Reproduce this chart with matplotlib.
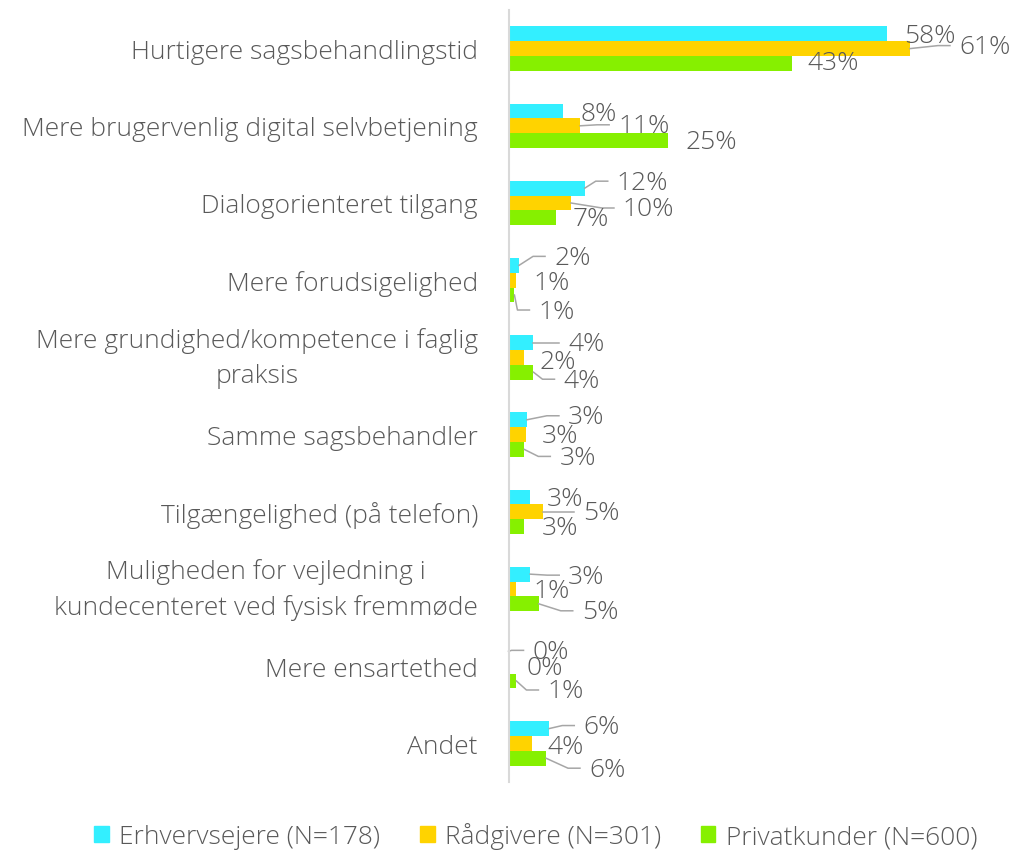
import matplotlib
matplotlib.use("Agg")
import matplotlib.pyplot as plt
from matplotlib.patches import Patch
from matplotlib.transforms import IdentityTransform

plt.rcParams['font.family'] = ['Open Sans', 'DejaVu Sans']

kategorier = [
    "Hurtigere sagsbehandlingstid",
    "Mere brugervenlig digital selvbetjening",
    "Dialogorienteret tilgang",
    "Mere forudsigelighed",
    "Mere grundighed/kompetence i faglig\npraksis",
    "Samme sagsbehandler",
    "Tilgængelighed (på telefon)",
    "Muligheden for vejledning i\nkundecenteret ved fysisk fremmøde",
    "Mere ensartethed",
    "Andet",
]
serier = ["Erhvervsejere (N=178)", "Rådgivere (N=301)", "Privatkunder (N=600)"]

erhverv = [57.6, 8.3, 11.6, 1.6, 3.8, 2.8, 3.3, 3.3, 0.0, 6.2]
raadgiver = [61.1, 10.9, 9.5, 1.2, 2.3, 2.6, 5.3, 1.2, 0.2, 3.5]
privat = [43.1, 24.3, 7.2, 0.9, 3.8, 2.4, 2.4, 4.6, 1.2, 5.7]
erhverv_lbl = [58, 8, 12, 2, 4, 3, 3, 3, 0, 6]
raadgiver_lbl = [61, 11, 10, 1, 2, 3, 5, 1, 0, 4]
privat_lbl = [43, 25, 7, 1, 4, 3, 3, 5, 1, 6]

# label placement (pixels from bar end, y downwards) and leader lines
erhverv_dx = [17, 17, 32, 35, 35, 41, 17, 38, 24, 34]
erhverv_dy = [2, 3, -6, -8, 1, -3, 2, 2, 0, -2]
erhverv_led = [0, 0, 1, 1, 1, 1, 0, 1, 1, 1]
raadgiver_dx = [49, 38, 52, 17, 16, 16, 40, 17, 17, 16]
raadgiver_dy = [-2, 0, 6, 2, 4, 1, 1, 2, 1, 3]
raadgiver_led = [1, 1, 1, 0, 0, 0, 1, 0, 0, 0]
privat_dx = [16, 17, 17, 24, 30, 35, 17, 43, 31, 43]
privat_dy = [-1, 1, 1, 16, 8, 8, 1, 8, 10, 11]
privat_led = [0, 0, 0, 1, 1, 1, 0, 1, 1, 1]

farver = ['#33EFFF', '#FFD300', '#86F000']
tekst_farve = '#595959'
fs = 19

fig = plt.figure(figsize=(10.13, 8.53), dpi=100)
ax = fig.add_axes([0.502, 0.0821, 0.454, 0.905])

ax.set_xlim(0, 70)
ax.set_ylim(len(kategorier) - 0.5, -0.5)

h = 0.192
data = [
    (erhverv, erhverv_lbl, erhverv_dx, erhverv_dy, erhverv_led, -h),
    (raadgiver, raadgiver_lbl, raadgiver_dx, raadgiver_dy, raadgiver_led, 0),
    (privat, privat_lbl, privat_dx, privat_dy, privat_led, h),
]

for (vals, lbls, dxs, dys, leds, off), farve, navn in zip(data, farver, serier):
    pos = [i + off for i in range(len(kategorier))]
    ax.barh(pos, vals, height=h, color=farve, label=navn)
    for v, y, lbl, dx, dy, led in zip(vals, pos, lbls, dxs, dys, leds):
        ax.annotate(f"{lbl}%", xy=(v, y), xytext=(dx, -dy),
                    textcoords='offset pixels', ha='left', va='center',
                    fontsize=fs, color=tekst_farve, fontweight='light')
        if led:
            sx, sy = ax.transData.transform((v, y))
            ex, ey = sx + dx - 9, sy - dy + 1
            kx = max(sx, ex - 12)
            ax.plot([sx, kx, ex], [sy, ey, ey], color='#A6A6A6', lw=1.1,
                    transform=IdentityTransform(), clip_on=False)

ax.set_yticks(range(len(kategorier)))
ax.set_yticklabels(kategorier, fontsize=fs, color=tekst_farve,
                   fontweight='light', multialignment='center')
for t in ax.get_yticklabels():
    if "\n" in t.get_text():
        t.set_linespacing(1.5)
        t.set_verticalalignment('center')
ax.tick_params(axis='y', length=0, pad=22)
ax.set_xticks([])
for s in ['top', 'right', 'bottom']:
    ax.spines[s].set_visible(False)
ax.spines['left'].set_color('#D9D9D9')
ax.spines['left'].set_linewidth(1.5)

handles = [Patch(color=c, label=n) for c, n in zip(farver, serier)]
leg = fig.legend(handles=handles, loc='center', bbox_to_anchor=(0.529, 0.019),
                 ncol=3, frameon=False, handlelength=0.55,
                 handleheight=0.55, handletextpad=0.4, columnspacing=1.5,
                 prop={'weight': 'light', 'size': fs})
for t in leg.get_texts():
    t.set_color(tekst_farve)

fig.savefig('out.png', dpi=100)
